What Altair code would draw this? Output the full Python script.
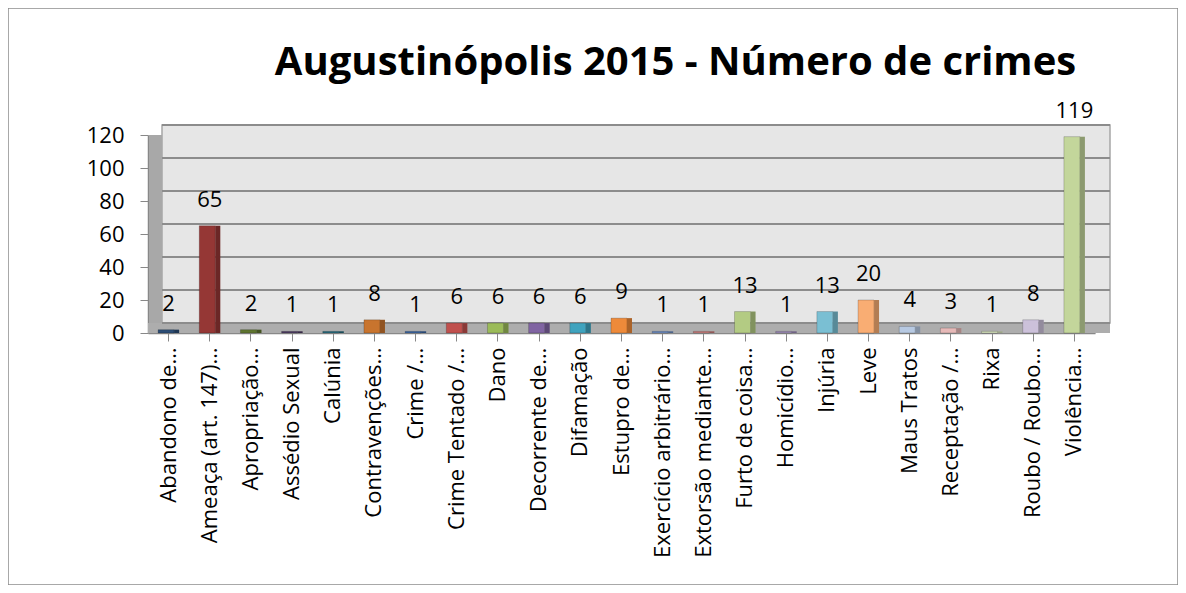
import altair as alt
import pandas as pd

categories = [
    "Abandono de…", "Ameaça (art. 147)…", "Apropriação…", "Assédio Sexual", "Calúnia",
    "Contravenções…", "Crime /…", "Crime Tentado /…", "Dano", "Decorrente de…",
    "Difamação", "Estupro de…", "Exercício arbitrário…", "Extorsão mediante…",
    "Furto de coisa…", "Homicídio…", "Injúria", "Leve", "Maus Tratos",
    "Receptação /…", "Rixa", "Roubo / Roubo…", "Violência…",
]
values = [2, 65, 2, 1, 1, 8, 1, 6, 6, 6, 6, 9, 1, 1, 13, 1, 13, 20, 4, 3, 1, 8, 119]
colors = [
    "#2C4D75", "#953735", "#5F7530", "#4D3B62", "#276A7C", "#C8742E",
    "#3A64A0", "#C0504D", "#9BBB59", "#8064A2", "#3FA3BE", "#EE8A3A",
    "#6D8CC0", "#C77C7A", "#B3CB83", "#9C8AB8", "#7ABFD3", "#F9AD73",
    "#B7C9E2", "#E6B9B8", "#D7E4BD", "#CCC1DA", "#C3D69B",
]
y_ticks = [0, 20, 40, 60, 80, 100, 120]
title_text = "Augustinópolis 2015 - Número de crimes"

df = pd.DataFrame({"cat": categories, "val": values})
one = pd.DataFrame({"t": [title_text]})
grid_df = pd.DataFrame({"val": y_ticks})

FONT = "Open Sans"
W, H = 947, 198
PL, PT = 140, 127
DEPTH = 10

color_enc = alt.Color("cat:N", scale=alt.Scale(domain=categories, range=colors), legend=None)

x_enc = alt.X("cat:N", sort=categories, title=None,
              scale=alt.Scale(paddingInner=0.48, paddingOuter=0.24),
              axis=alt.Axis(labelAngle=-90, labelFontSize=22, labelFont=FONT,
                            labelColor="#000", labelLimit=300, labelPadding=6,
                            tickColor="#888", tickSize=8, domainColor="#888",
                            domainWidth=1.5, labelBaseline="middle", labelAlign="right"))
y_scale = alt.Scale(domain=[0, 120], nice=False)
y_axis = alt.Axis(values=y_ticks, labelFontSize=22, grid=False,
                  labelOverlap=False,
                  labelFont=FONT, labelColor="#000", tickColor="#888",
                  tickSize=8, domainColor="#888", domainWidth=1.5,
                  labelPadding=16)
y_enc = alt.Y("val:Q", title=None, scale=y_scale, axis=y_axis)

frame = alt.Chart(one).mark_rect(fill=None, stroke="#8C8C8C", strokeWidth=1.5, clip=False).encode(
    x=alt.value(-PL), x2=alt.value(1170 - PL), y=alt.value(-PT), y2=alt.value(577 - PT)
)

title = alt.Chart(one).mark_text(fontSize=40, fontWeight="bold", font=FONT, color="#000",
                                 baseline="alphabetic", align="center").encode(
    x=alt.value(W / 2 + 54), y=alt.value(-60), text="t:N"
)

backwall = alt.Chart(one).mark_rect(fill="#E6E6E6", stroke="#A6A6A6", strokeWidth=1.5,
                                    clip=False).encode(
    x=alt.value(14), x2=alt.value(W + 15), y=alt.value(-DEPTH), y2=alt.value(H - DEPTH)
)

sidewall = alt.Chart(one).mark_rect(color="#A8A8A8").encode(
    x=alt.value(1), x2=alt.value(14), y=alt.value(0), y2=alt.value(H)
)

floor = alt.Chart(one).mark_rect(color="#ADADAD", clip=False).encode(
    x=alt.value(0), x2=alt.value(W + 15), y=alt.value(H - DEPTH), y2=alt.value(H)
)

grid = alt.Chart(grid_df).mark_rule(color="#8C8C8C", strokeWidth=2, yOffset=-DEPTH,
                                    clip=False).encode(
    y=y_enc, x=alt.value(14), x2=alt.value(W + 15)
)

bars = alt.Chart(df).mark_bar(size=16, xOffset=-2.5, strokeWidth=1).encode(
    x=x_enc, y=y_enc, color=color_enc, stroke=alt.value("#00000030"),
)
bar_side = alt.Chart(df).mark_bar(size=5, xOffset=8, strokeWidth=1).encode(
    x=alt.X("cat:N", sort=categories), y=y_enc, color=color_enc,
)
bar_shade = alt.Chart(df).mark_bar(size=5, xOffset=8, color="#000", opacity=0.28).encode(
    x=alt.X("cat:N", sort=categories), y=y_enc,
)
labels = alt.Chart(df).mark_text(dy=-14, baseline="bottom", fontSize=22, font=FONT,
                                 color="#000").encode(
    x=alt.X("cat:N", sort=categories), y=y_enc, text="val:Q"
)

chart = alt.layer(frame, title, backwall, sidewall, floor, grid, bars, bar_side, bar_shade,
                  labels).properties(
    width=W, height=H,
    padding={"left": PL, "top": PT, "right": 1170 - PL - W, "bottom": 577 - PT - H},
    autosize=alt.AutoSizeParams(type="none"),
).configure_view(fill="white", stroke=None).configure(background="white")

chart.save("out.html", embed_options={"renderer": "svg", "actions": False})
